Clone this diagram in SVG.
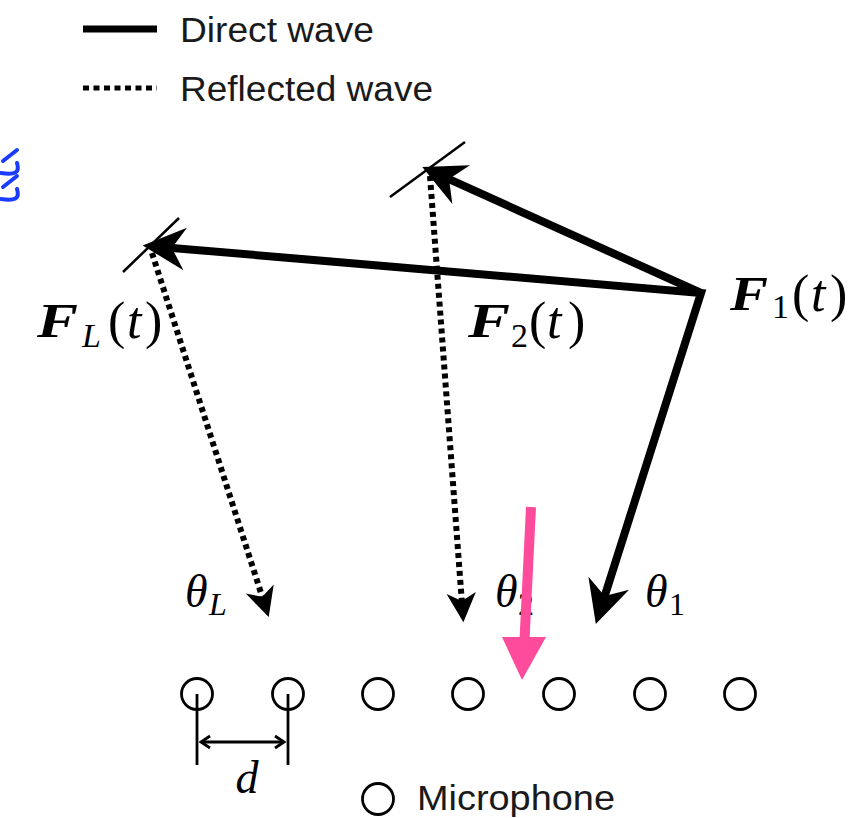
<svg xmlns="http://www.w3.org/2000/svg" width="867" height="818" viewBox="0 0 867 818">
<defs>
<style>
.leg{font-family:"Liberation Sans","Noto Sans",Arial,sans-serif;font-size:35px;fill:#1a1a1a}
.m{font-family:"Liberation Serif","Times New Roman",serif;fill:#000}
.fb{font-family:"Liberation Serif","Times New Roman",serif;font-weight:bold;font-style:italic;font-size:48px;fill:#000}
.mic{fill:none;stroke:#000;stroke-width:2.8}
.mir{stroke:#000;stroke-width:2.5;fill:none}
.direct{stroke:#000;stroke-width:8;fill:none;stroke-linejoin:miter}
.refl{stroke:#000;stroke-width:6;fill:none;stroke-dasharray:5 4}
</style>
<marker id="hd" markerUnits="userSpaceOnUse" orient="auto" refX="0" refY="0" markerWidth="60" markerHeight="60" viewBox="-15 -20 45 40" overflow="visible">
<path d="M22,0 L-10,-16 L0,0 L-10,16 Z" fill="#000"/>
</marker>
<marker id="hr" markerUnits="userSpaceOnUse" orient="auto" refX="0" refY="0" markerWidth="40" markerHeight="40" viewBox="-10 -15 30 30" overflow="visible">
<path d="M16,0 L-6,-11 L0,0 L-6,11 Z" fill="#000"/>
</marker>
</defs>
<rect width="867" height="818" fill="#fff"/>

<g id="legend">
<line x1="83" y1="29" x2="157" y2="29" stroke="#000" stroke-width="7"/>
<text class="leg" x="180" y="42" textLength="194" lengthAdjust="spacingAndGlyphs">Direct wave</text>
<line x1="83" y1="88" x2="157" y2="88" stroke="#000" stroke-width="5" stroke-dasharray="6 4.5"/>
<text class="leg" x="180" y="101" textLength="253" lengthAdjust="spacingAndGlyphs">Reflected wave</text>
</g>

<g id="blue-fragment" stroke="#1a3cff" stroke-width="4" fill="none" stroke-linecap="round" stroke-linejoin="round">
<path d="M3,161 L17,150"/>
<path d="M17,163 C20,173 15,175 1,173"/>
<path d="M3,187 L17,176"/>
<path d="M17,189 C20,199 15,201 1,199"/>
</g>

<g id="mirror-L"><line class="mir" x1="123" y1="272" x2="179" y2="218"/></g>
<g id="mirror-2"><line class="mir" x1="390" y1="197" x2="465" y2="142"/></g>

<g id="connectors">
<path class="direct" d="M171.9,247.9 L701,293 L604.7,596" marker-end="url(#hd)"/>
<path class="direct" d="M701,293 L171.9,247.9" stroke-opacity="0" marker-end="url(#hd)"/>
<path class="direct" d="M701,293 L449,179.1" marker-end="url(#hd)"/>
<path class="refl" d="M152,253 L262.2,596.7" marker-end="url(#hr)"/>
<path class="refl" d="M430,176 L461.8,601" marker-end="url(#hr)"/>
</g>

<g id="label-FL">
<text class="fb" x="37" y="337" textLength="41" lengthAdjust="spacingAndGlyphs">F</text>
<text class="m" y="338" font-size="52"><tspan x="82" y="347" font-size="34" font-style="italic">L</tspan><tspan x="108" y="338">(</tspan><tspan x="127" font-style="italic">t</tspan><tspan x="145">)</tspan></text>
</g>
<g id="label-F2">
<text class="fb" x="468" y="337" textLength="42" lengthAdjust="spacingAndGlyphs">F</text>
<text class="m" y="338" font-size="52"><tspan x="511" y="347" font-size="34">2</tspan><tspan x="529" y="338">(</tspan><tspan x="547" font-style="italic">t</tspan><tspan x="568">)</tspan></text>
</g>
<g id="label-F1">
<text class="fb" x="730" y="310" textLength="38" lengthAdjust="spacingAndGlyphs">F</text>
<text class="m" y="311" font-size="52"><tspan x="772" y="318" font-size="34">1</tspan><tspan x="792" y="311">(</tspan><tspan x="811" font-style="italic">t</tspan><tspan x="830">)</tspan></text>
</g>

<g id="label-thetaL" class="m">
<text y="607" font-size="46"><tspan x="185" font-style="italic">θ</tspan><tspan x="209" y="615" font-size="32" font-style="italic">L</tspan></text>
</g>
<g id="label-theta2" class="m">
<text y="607" font-size="46"><tspan x="495" font-style="italic">θ</tspan><tspan x="518" y="615" font-size="32">2</tspan></text>
</g>
<g id="label-theta1" class="m">
<text y="607" font-size="46"><tspan x="645" font-style="italic">θ</tspan><tspan x="669" y="615" font-size="32">1</tspan></text>
</g>

<g id="pink-arrow">
<line x1="531" y1="507" x2="524.5" y2="640" stroke="#ff4b9b" stroke-width="10"/>
<path d="M502,637 L546,637 L522,680 Z" fill="#ff4b9b"/>
</g>

<g id="microphones">
<circle class="mic" cx="197" cy="694" r="15.5"/>
<circle class="mic" cx="288" cy="694" r="15.5"/>
<circle class="mic" cx="378" cy="694" r="15.5"/>
<circle class="mic" cx="468" cy="694" r="15.5"/>
<circle class="mic" cx="559" cy="694" r="15.5"/>
<circle class="mic" cx="650" cy="694" r="15.5"/>
<circle class="mic" cx="740" cy="694" r="15.5"/>
</g>

<g id="spacing-d">
<line x1="197" y1="694" x2="197" y2="765" stroke="#000" stroke-width="2.8"/>
<line x1="288" y1="694" x2="288" y2="765" stroke="#000" stroke-width="2.8"/>
<line x1="201" y1="742" x2="284" y2="742" stroke="#000" stroke-width="2.8"/>
<path d="M210,736 L201,742 L210,748" fill="none" stroke="#000" stroke-width="2.8"/>
<path d="M275,736 L284,742 L275,748" fill="none" stroke="#000" stroke-width="2.8"/>
<text class="m" x="247" y="793" font-size="46" font-style="italic" text-anchor="middle">d</text>
</g>

<g id="mic-legend">
<circle class="mic" cx="378" cy="799" r="15.5"/>
<text class="leg" x="417" y="810" textLength="198" lengthAdjust="spacingAndGlyphs">Microphone</text>
</g>
</svg>
